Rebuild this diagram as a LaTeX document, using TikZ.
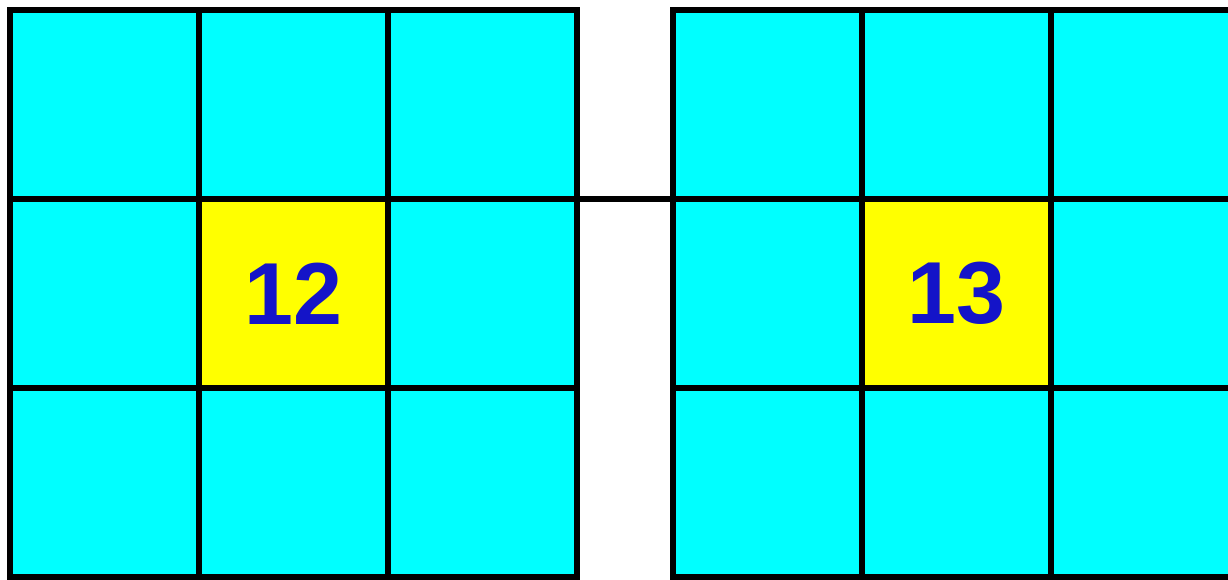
\documentclass[tikz,border=0pt]{standalone}
\usepackage{fontspec}
\setmainfont{Liberation Sans}
\usepackage{tikz}
\usetikzlibrary{positioning}
\definecolor{cellcyan}{RGB}{0,255,255}
\definecolor{cellyellow}{RGB}{255,255,0}
\definecolor{numblue}{RGB}{20,20,200}

\begin{document}
\begin{tikzpicture}[
  x=1pt,y=-1pt,
  line width=6pt,
  cell/.style={draw=black,fill=cellcyan,rectangle,
    minimum size=189pt,inner sep=0pt,outer sep=0pt},
  centre/.style={cell,fill=cellyellow,text=numblue,
    font=\fontsize{88}{88}\selectfont\bfseries}
]
\useasboundingbox (0,0) rectangle (1228,580);

% 二つの 3x3 格子（左: 12, 右: 13）
\foreach \g/\ox/\num in {L/10/12,R/673/13}{
  \foreach \r in {1,2,3}{
    \foreach \c in {1,2,3}{
      \ifnum\r\c=22
        \node[centre] (\g-\r-\c)
          at ({\ox+189*(\c-0.5)},{10+189*(\r-0.5)}) {\num};
      \else
        \node[cell] (\g-\r-\c)
          at ({\ox+189*(\c-0.5)},{10+189*(\r-0.5)}) {};
      \fi
    }
  }
}

% 格子をつなぐ線
\draw (L-1-3.south east) -- (R-1-1.south west);

\end{tikzpicture}
\end{document}
